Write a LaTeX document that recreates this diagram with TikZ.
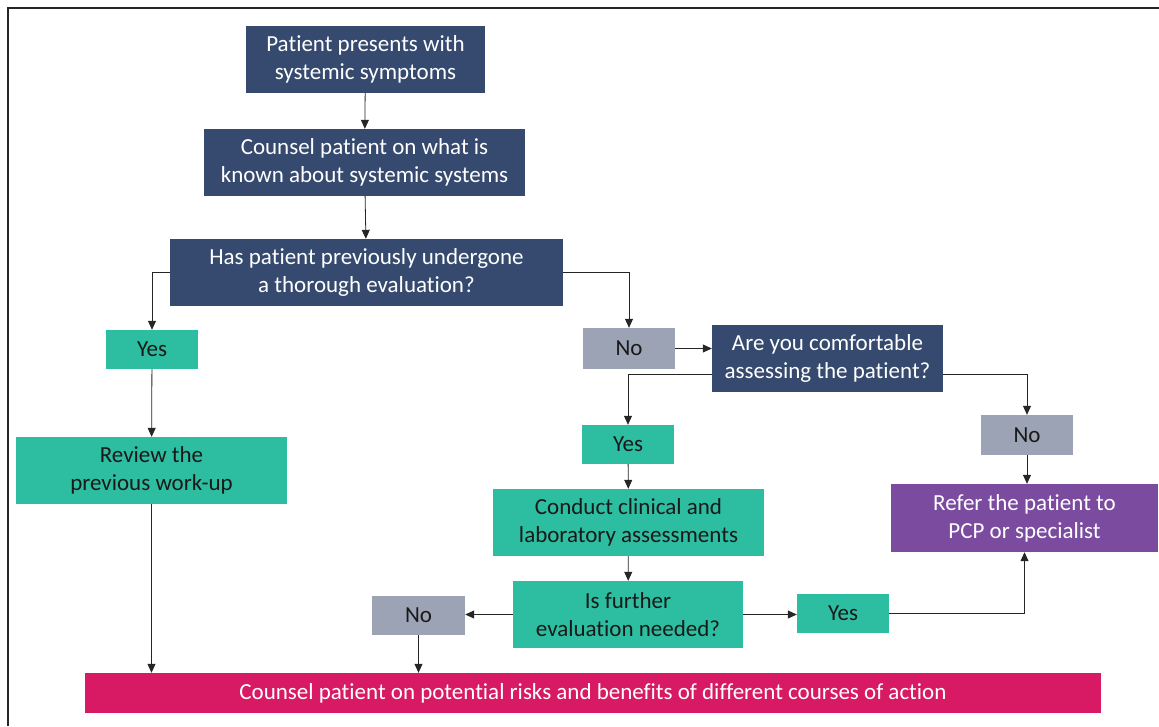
\documentclass[tikz,border=0pt]{standalone}
\usepackage{fontspec}
\setmainfont{Carlito}[Ligatures=NoCommon]
\usetikzlibrary{arrows.meta}
\definecolor{navy}{HTML}{354A6E}
\definecolor{teal}{HTML}{2DBDA0}
\definecolor{slate}{HTML}{9CA3B5}
\definecolor{plum}{HTML}{7B4BA0}
\definecolor{rose}{HTML}{D71A63}
\tikzset{
  box/.style={rectangle, inner sep=0pt, align=center, font=\fontsize{23}{28}\selectfont},
  qbox/.style={box, fill=navy, text=white},
  gbox/.style={box, fill=teal, text=black!90},
  nbox/.style={box, fill=slate, text=black!90},
  arr/.style={-{Triangle[length=9pt,width=8pt]}, draw=black!85, line width=0.8pt}
}
\begin{document}
\begin{tikzpicture}[x=1pt,y=-1pt]
\useasboundingbox (0,0) rectangle (1159,726);
\draw[line width=2.2pt,color=black!85] (8,726) -- (8,8) -- (1159,8);
% top of the chart
\node[qbox,minimum width=239pt,minimum height=67pt] (start) at (365.5,59.5) {Patient presents with\\systemic symptoms};
\node[qbox,minimum width=321pt,minimum height=67pt] (counsel) at (364.5,162.5) {Counsel patient on what is\\known about systemic systems};
\node[qbox,minimum width=393pt,minimum height=67pt] (prior) at (366.5,272.5) {Has patient previously undergone\\a thorough evaluation?};
% left branch
\node[gbox,minimum width=92pt,minimum height=39pt] (yesa) at (152,349.5) {Yes};
\node[gbox,minimum width=271pt,minimum height=67pt] (review) at (151.5,470.5) {Review the\\previous work-up};
% right branch
\node[nbox,minimum width=92pt,minimum height=41pt] (noa) at (629,348.5) {No};
\node[qbox,minimum width=231pt,minimum height=67pt] (comfort) at (827.5,358.5) {Are you comfortable\\assessing the patient?};
\node[gbox,minimum width=92pt,minimum height=39pt] (yesb) at (628,444.5) {Yes};
\node[nbox,minimum width=92pt,minimum height=40pt] (nob) at (1027,435) {No};
\node[box,fill=plum,text=white,minimum width=267pt,minimum height=68pt] (refer) at (1024.5,518) {Refer the patient to\\PCP or specialist};
\node[gbox,minimum width=271pt,minimum height=67pt] (assess) at (628.5,522.5) {Conduct clinical and\\laboratory assessments};
\node[gbox,minimum width=230pt,minimum height=67pt] (further) at (628,614.5) {Is further\\evaluation needed?};
\node[nbox,minimum width=93pt,minimum height=39pt] (noc) at (418.5,615.5) {No};
\node[gbox,minimum width=92pt,minimum height=39pt] (yesc) at (843,613.5) {Yes};
% bottom
\node[box,fill=rose,text=white,minimum width=1016pt,minimum height=40pt] (risks) at (593,693) {Counsel patient on potential risks and benefits of different courses of action};
% connectors
\draw[arr] (start) -- (counsel);
\draw[arr] (counsel) -- (prior);
\draw[arr] (prior.west) -| (yesa.north);
\draw[arr] (prior.east) -| (noa.north);
\draw[arr] (yesa) -- (review);
\draw[arr] (review.south) -- (review.south |- risks.north);
\draw[arr] (noa.east) -- (noa.east -| comfort.west);
\draw[arr] ([yshift=-16pt]comfort.west) -| (yesb.north);
\draw[arr] ([yshift=-16pt]comfort.east) -| (nob.north);
\draw[arr] (nob.south) -- (nob.south |- refer.north);
\draw[arr] (yesb) -- (assess);
\draw[arr] (assess) -- (further);
\draw[arr] (further.west) -- (further.west -| noc.east);
\draw[arr] (further.east) -- (further.east -| yesc.west);
\draw[arr] (yesc.east) -| (refer.south);
\draw[arr] (noc.south) -- (noc.south |- risks.north);
\end{tikzpicture}
\end{document}
